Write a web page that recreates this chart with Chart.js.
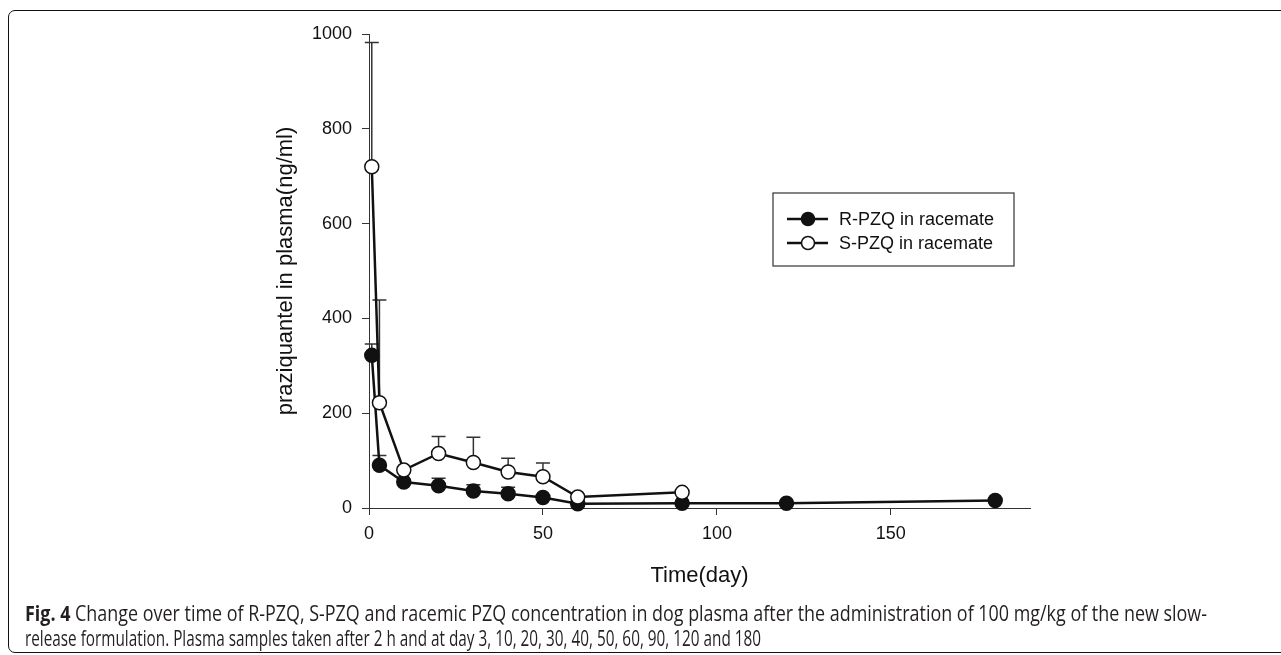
<!DOCTYPE html>
<html>
<head>
<meta charset="utf-8">
<script src="https://cdn.jsdelivr.net/npm/chart.js@4.4.1/dist/chart.umd.min.js"></script>
<style>
  html, body { margin: 0; padding: 0; background: #fff; }
  body { width: 1281px; height: 655px; position: relative; overflow: hidden; }
  #frame { position: absolute; left: 8px; top: 10px; width: 1320px; height: 643px;
           border: 1.5px solid #111; border-radius: 7px; box-sizing: border-box; }
  #c { position: absolute; left: 0; top: 0; }
  .cap { position: absolute; left: 25px; white-space: nowrap; color: #231f20;
         font-family: "Open Sans", "Noto Sans", sans-serif;
         font-size: 21px; line-height: 25px; transform-origin: 0 50%; }
  .cap b { font-weight: bold; }
</style>
</head>
<body>
<div id="frame"></div>
<canvas id="c" width="1281" height="655"></canvas>
<div class="cap" id="cap1" style="top:601px"><b>Fig. 4</b> Change over time of R-PZQ, S-PZQ and racemic PZQ concentration in dog plasma after the administration of 100 mg/kg of the new slow-</div>
<div class="cap" id="cap2" style="top:626px">release formulation. Plasma samples taken after 2 h and at day 3, 10, 20, 30, 40, 50, 60, 90, 120 and 180</div>
<script>
// ---- data ----
const days   = [0.8, 3, 10, 20, 30, 40, 50, 60, 90, 120, 180];
const rPZQ   = [322, 90, 55, 47, 36, 30, 22, 9, 10, 10, 16];
const sPZQ   = [720, 222, 80, 115, 96, 76, 66, 23, 33, null, null];
const rErr   = [24, 21, null, 16, 13, 14, null, null, null, null, null];
const sErr   = [262, 217, null, 36, 53, 29, 29, null, null, null, null];
const seriesNames = ['R-PZQ in racemate', 'S-PZQ in racemate'];
const xTitle = 'Time(day)';
const yTitle = 'praziquantel in plasma(ng/ml)';
const xMin = 0, xMax = 190, xStep = 50;
const yMin = 0, yMax = 1000, yStep = 200;

// condense caption lines to the reference widths
function fitCap(id, w) {
  const el = document.getElementById(id);
  const cw = el.getBoundingClientRect().width;
  el.style.transform = 'scaleX(' + (w / cw) + ')';
}
fitCap('cap1', 1182);
fitCap('cap2', 736);

const FONT = 'Arial, "Liberation Sans", sans-serif';
const INK = '#111';

function pts(ys) { return days.map((d, i) => ({x: d, y: ys[i]})); }

const errorBars = {
  id: 'errorBars',
  beforeDatasetsDraw(chart) {
    const ctx = chart.ctx, xs = chart.scales.x, ys = chart.scales.y;
    ctx.save();
    ctx.strokeStyle = '#333';
    ctx.lineWidth = 1.5;
    [[sPZQ, sErr], [rPZQ, rErr]].forEach(([vals, errs]) => {
      days.forEach((d, i) => {
        if (vals[i] == null || errs[i] == null) return;
        const px = xs.getPixelForValue(d);
        const p0 = ys.getPixelForValue(vals[i]);
        const p1 = ys.getPixelForValue(vals[i] + errs[i]);
        ctx.beginPath();
        ctx.moveTo(px, p0); ctx.lineTo(px, p1);
        ctx.moveTo(px - 7, p1); ctx.lineTo(px + 7, p1);
        ctx.stroke();
      });
    });
    ctx.restore();
  }
};

const boxLegend = {
  id: 'boxLegend',
  afterDraw(chart) {
    const ctx = chart.ctx;
    ctx.save();
    ctx.strokeStyle = '#333';
    ctx.lineWidth = 1.2;
    ctx.strokeRect(773, 193, 241, 73);
    const rows = [
      {y: 219, ds: chart.data.datasets[1]},
      {y: 243, ds: chart.data.datasets[0]}
    ];
    rows.forEach(r => {
      ctx.strokeStyle = INK;
      ctx.lineWidth = 2.5;
      ctx.beginPath(); ctx.moveTo(787, r.y); ctx.lineTo(828, r.y); ctx.stroke();
      ctx.beginPath(); ctx.arc(808, r.y, 6.5, 0, Math.PI * 2);
      ctx.fillStyle = r.ds.pointBackgroundColor; ctx.fill();
      ctx.lineWidth = 1.5; ctx.stroke();
      ctx.fillStyle = INK;
      ctx.font = '18px ' + FONT;
      ctx.textBaseline = 'middle';
      ctx.textAlign = 'left';
      ctx.fillText(r.ds.label, 839, r.y + 1);
    });
    ctx.restore();
  }
};

new Chart(document.getElementById('c'), {
  type: 'line',
  data: {
    datasets: [
      { label: seriesNames[1], data: pts(sPZQ), borderColor: INK, borderWidth: 2.5,
        pointRadius: 7, pointHoverRadius: 7, pointBackgroundColor: '#fff', pointBorderColor: INK,
        pointBorderWidth: 1.5, tension: 0, clip: false, spanGaps: false },
      { label: seriesNames[0], data: pts(rPZQ), borderColor: INK, borderWidth: 2.5,
        pointRadius: 7, pointHoverRadius: 7, pointBackgroundColor: INK, pointBorderColor: INK,
        pointBorderWidth: 1.5, tension: 0, clip: false }
    ]
  },
  options: {
    responsive: false,
    animation: false,
    devicePixelRatio: 1,
    layout: { padding: { left: 270, top: 34, right: 251, bottom: 62 } },
    plugins: { legend: { display: false }, tooltip: { enabled: false } },
    scales: {
      x: {
        type: 'linear', min: xMin, max: xMax,
        afterFit(s) { s.height = 85; },
        ticks: { stepSize: xStep, includeBounds: false, padding: 8, color: INK,
                 font: { family: FONT, size: 18 }, maxRotation: 0,
                 callback: v => String(v) },
        grid: { display: true, drawOnChartArea: false, drawTicks: true, tickLength: 7,
                color: '#333', lineWidth: 1 },
        border: { display: true, color: '#333', width: 1 },
        title: { display: true, text: xTitle, color: INK,
                 font: { family: FONT, size: 22 }, padding: { top: 0, bottom: 4 } }
      },
      y: {
        type: 'linear', min: yMin, max: yMax,
        afterFit(s) { s.width = 99; },
        ticks: { stepSize: yStep, padding: 10, color: INK, font: { family: FONT, size: 18 },
                 callback: v => String(v) },
        grid: { display: true, drawOnChartArea: false, drawTicks: true, tickLength: 7,
                color: '#333', lineWidth: 1 },
        border: { display: true, color: '#333', width: 1 },
        title: { display: true, text: yTitle, color: INK,
                 font: { family: FONT, size: 22 }, padding: { top: 3, bottom: 0 } }
      }
    }
  },
  plugins: [errorBars, boxLegend]
});
</script>
</body>
</html>
